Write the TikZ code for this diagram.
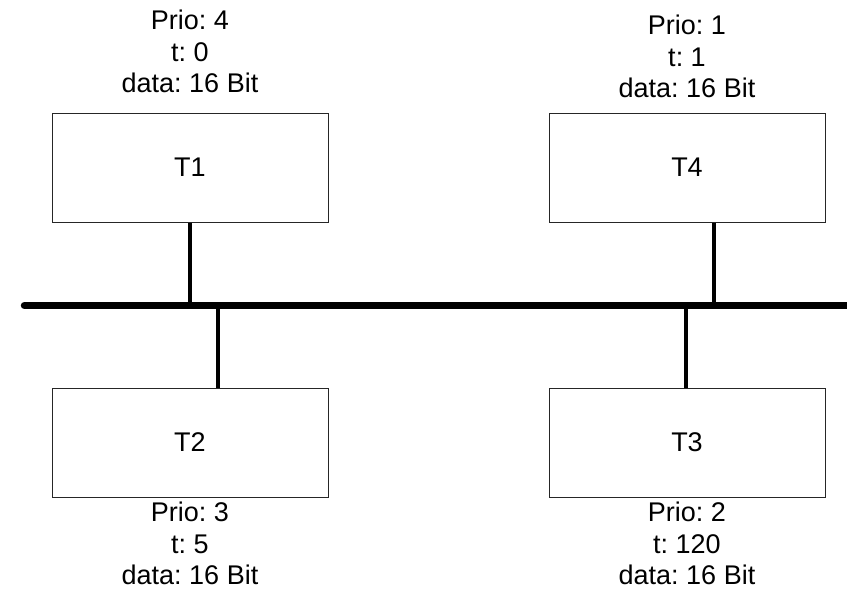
\documentclass[tikz,border=0pt]{standalone}
\usepackage{fontspec}
\setmainfont{Liberation Sans}
\frenchspacing
\begin{document}
\begin{tikzpicture}[x=1pt,y=-1pt,
  tbox/.style={draw=black!85,line width=1pt,minimum width=276pt,minimum height=109pt,inner sep=0pt,font=\fontsize{27}{31.5}\selectfont},
  tlabel/.style={align=center,inner sep=0pt,anchor=north,font=\fontsize{27}{31.5}\selectfont\frenchspacing},
  busline/.style={line width=7.5pt,line cap=round},
  stub/.style={line width=4pt}]
\useasboundingbox (0,0) rectangle (847,590);
% boxes
\node[tbox] (t1) at (190,167.5) {T1};
\node[tbox] (t4) at (687,167.5) {T4};
\node[tbox] (t2) at (190,442.5) {T2};
\node[tbox] (t3) at (687,442.5) {T3};
% labels
\node[tlabel] (l1) at (190,9.8) {Prio: 4\\t: 0\\data: 16 Bit};
\node[tlabel] (l4) at (687,15) {Prio: 1\\t: 1\\data: 16 Bit};
\node[tlabel] (l2) at (190,502) {Prio: 3\\t: 5\\data: 16 Bit};
\node[tlabel] (l3) at (687,502) {Prio: 2\\t: 120\\data: 16 Bit};
% bus
\coordinate (busL) at (24.5,305.5);
\coordinate (busR) at (851,305.5);
\coordinate (j1) at (190,305.5);
\coordinate (j2) at (218,305.5);
\coordinate (j3) at (686,305.5);
\coordinate (j4) at (714,305.5);
\draw[busline] (busL) -- (busR);
\draw[stub] (t1.south -| j1) -- (j1);
\draw[stub] (t2.north -| j2) -- (j2);
\draw[stub] (t3.north -| j3) -- (j3);
\draw[stub] (t4.south -| j4) -- (j4);
\end{tikzpicture}
\end{document}
